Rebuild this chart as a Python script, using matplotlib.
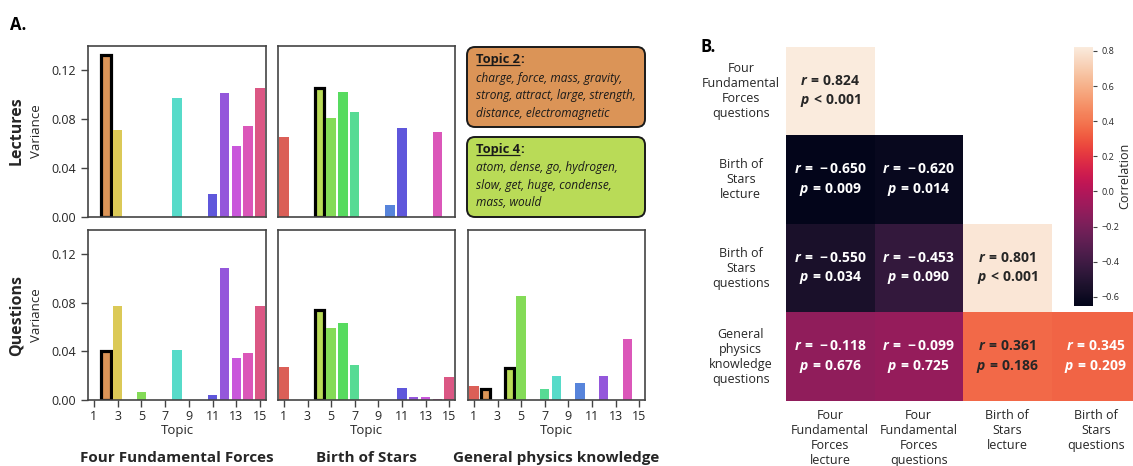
import numpy as np
import matplotlib
matplotlib.use("Agg")
import matplotlib.pyplot as plt
import seaborn as sns
from matplotlib.patches import FancyBboxPatch

plt.rcParams['font.family'] = ['Open Sans', 'DejaVu Sans']
plt.rcParams['mathtext.fontset'] = 'custom'
plt.rcParams['mathtext.rm'] = 'Open Sans:bold'
plt.rcParams['mathtext.it'] = 'Open Sans:italic:bold'
plt.rcParams['mathtext.bf'] = 'Open Sans:bold'
plt.rcParams['axes.unicode_minus'] = True

# ---------------- data ----------------
topics = list(range(1, 16))
tick_topics = [1, 3, 5, 7, 9, 11, 13, 15]
fff_lecture = [0, 0.1323, 0.0709, 0, 0, 0, 0, 0.0971, 0, 0, 0.0185, 0.1012, 0.0578, 0.0742, 0.1053]
bos_lecture = [0.0652, 0, 0, 0.1058, 0.0807, 0.1020, 0.0856, 0, 0, 0.0095, 0.0725, 0, 0, 0.0693, 0]
fff_questions = [0.0003, 0.0402, 0.0774, 0, 0.0065, 0, 0.0002, 0.0415, 0.0003, 0, 0.0041, 0.1083, 0.0342, 0.0383, 0.0774]
bos_questions = [0.0269, 0.0004, 0, 0.0739, 0.0595, 0.0635, 0.0285, 0.0003, 0.0003, 0.0003, 0.0098, 0.0024, 0.0024, 0.0008, 0.0187]
gen_questions = [0.0114, 0.0087, 0.0003, 0.0261, 0.0855, 0.0003, 0.0090, 0.0195, 0.0003, 0.0138, 0.0003, 0.0195, 0.0002, 0.0505, 0.0003]

topic2_words = ["charge, force, mass, gravity,", "strong, attract, large, strength,", "distance, electromagnetic"]
topic4_words = ["atom, dense, go, hydrogen,", "slow, get, huge, condense,", "mass, would"]

corr_rows = ["Four\nFundamental\nForces\nquestions", "Birth of\nStars\nlecture",
             "Birth of\nStars\nquestions", "General\nphysics\nknowledge\nquestions"]
corr_cols = ["Four\nFundamental\nForces\nlecture", "Four\nFundamental\nForces\nquestions",
             "Birth of\nStars\nlecture", "Birth of\nStars\nquestions"]
r_values = [[0.824],
            [-0.650, -0.620],
            [-0.550, -0.453, 0.801],
            [-0.118, -0.099, 0.361, 0.345]]
p_labels = [["< 0.001"],
            ["= 0.009", "= 0.014"],
            ["= 0.034", "= 0.090", "< 0.001"],
            ["= 0.676", "= 0.725", "= 0.186", "= 0.209"]]

palette = sns.color_palette("hls", 15)

W, H = 1133, 466
fig = plt.figure(figsize=(W / 100, H / 100), dpi=100)
TXT = '#262626'
SPINE = '#444444'


def px_axes(x0, y0, x1, y1):
    return fig.add_axes([x0 / W, 1 - y1 / H, (x1 - x0) / W, (y1 - y0) / H])


def bar_panel(rect, values, highlight, show_y, show_x):
    ax = px_axes(*rect)
    ec = ['black' if t in highlight else 'none' for t in topics]
    lw = [2.3 if t in highlight else 0 for t in topics]
    ax.bar(topics, values, width=0.8, color=palette, edgecolor=ec, linewidth=lw)
    ax.set_xlim(0.5, 15.5)
    ax.set_ylim(0, 0.14)
    for s in ax.spines.values():
        s.set_color(SPINE)
        s.set_linewidth(1.2)
    ax.tick_params(colors=TXT, labelsize=9, length=5, width=1, color=SPINE)
    if show_y:
        ax.set_yticks([0, 0.04, 0.08, 0.12])
        ax.set_yticklabels([f"{v:.2f}" for v in [0, 0.04, 0.08, 0.12]])
        ax.set_ylabel("Variance", fontsize=9.5, color=TXT)
        ax.yaxis.set_label_coords((43 - rect[0]) / (rect[2] - rect[0]), 0.5)
    else:
        ax.set_yticks([])
    if show_x:
        ax.set_xticks(tick_topics)
        ax.set_xticklabels([str(t) for t in tick_topics])
        ax.tick_params(axis='x', pad=2)
        ax.set_xlabel("Topic", fontsize=9.5, color=TXT, labelpad=1)
    else:
        ax.set_xticks([])
    return ax


top_y = (46, 217)
bot_y = (230, 400)
cols_x = [(88, 266), (278, 455), (468, 645)]

bar_panel((cols_x[0][0], top_y[0], cols_x[0][1], top_y[1]), fff_lecture, {2}, True, False)
bar_panel((cols_x[1][0], top_y[0], cols_x[1][1], top_y[1]), bos_lecture, {4}, False, False)
bar_panel((cols_x[0][0], bot_y[0], cols_x[0][1], bot_y[1]), fff_questions, {2}, True, True)
bar_panel((cols_x[1][0], bot_y[0], cols_x[1][1], bot_y[1]), bos_questions, {4}, False, True)
bar_panel((cols_x[2][0], bot_y[0], cols_x[2][1], bot_y[1]), gen_questions, {2, 4}, False, True)

# row titles
fig.text(17 / W, 1 - 131 / H, "Lectures", rotation=90, ha='center', va='center',
         fontsize=11.5, fontweight='bold', color=TXT)
fig.text(17 / W, 1 - 315 / H, "Questions", rotation=90, ha='center', va='center',
         fontsize=11.5, fontweight='bold', color=TXT)

# group titles
for (x0, x1), name in zip(cols_x, ["Four Fundamental Forces", "Birth of Stars", "General physics knowledge"]):
    fig.text((x0 + x1) / 2 / W, 1 - 458 / H, name, ha='center', va='center',
             fontsize=11, fontweight='bold', color=TXT)

fig.text(10 / W, 1 - 25 / H, "A.", ha='left', va='center', fontsize=12, fontweight='bold', color='black')
fig.text(700 / W, 1 - 47 / H, "B.", ha='left', va='center', fontsize=12, fontweight='bold', color='black')

# topic word boxes (axes in pixel units)
axt = px_axes(462, 40, 650, 222)
axt.set_xlim(462, 650)
axt.set_ylim(222, 40)
axt.axis('off')
renderer = fig.canvas.get_renderer()


def word_box(y0, y1, color, title, words):
    box = FancyBboxPatch((467, y0), 178, y1 - y0, boxstyle="round,pad=0,rounding_size=8",
                         facecolor=color, edgecolor='#1a1a1a', linewidth=1.4)
    axt.add_patch(box)
    ty = y0 + 12.5
    t = axt.text(476, ty, title, fontsize=9.3, fontweight='bold', va='center', ha='left', color='#1a1a1a')
    bb = t.get_window_extent(renderer).transformed(axt.transData.inverted())
    x_end = max(bb.x0, bb.x1)
    axt.text(x_end, ty, ":", fontsize=9.3, fontweight='bold', va='center', ha='left', color='#1a1a1a')
    axt.plot([476, x_end], [ty + 5.5, ty + 5.5], color='#1a1a1a', lw=0.9, solid_capstyle='butt')
    for i, line in enumerate(words):
        axt.text(476, y0 + 31 + i * 17.5, line, fontsize=8.6, style='italic', va='center',
                 ha='left', color='#1a1a1a')


word_box(47, 127, palette[1], "Topic 2", topic2_words)
word_box(137, 217, palette[3], "Topic 4", topic4_words)

# ---------------- correlation heatmap ----------------
n = len(corr_rows)
mat = np.full((n, n), np.nan)
for i, row in enumerate(r_values):
    for j, v in enumerate(row):
        mat[i, j] = v
masked = np.ma.masked_invalid(mat)
vmin, vmax = np.nanmin(mat), np.nanmax(mat)
cmap = sns.color_palette("rocket", as_cmap=True)

axh = px_axes(786, 46.7, 1140, 401)
mesh = axh.pcolormesh(np.arange(n + 1), np.arange(n + 1), masked, cmap=cmap, vmin=vmin, vmax=vmax)
axh.set_xlim(0, n)
axh.set_ylim(n, 0)
axh.axis('off')


def math_value(v):
    s = f"{abs(v):.3f}"
    return rf"-{s}" if v < 0 else s


norm = plt.Normalize(vmin, vmax)
for i, row in enumerate(r_values):
    for j, v in enumerate(row):
        rgb = cmap(norm(v))[:3]
        lum = 0.2126 * rgb[0] + 0.7152 * rgb[1] + 0.0722 * rgb[2]
        c = TXT if lum > 0.5 else 'white'
        op, num = p_labels[i][j].split()
        axh.text(j + 0.5, i + 0.39, rf"$r\,=\,{math_value(v)}$", ha='center', va='center',
                 fontsize=10, color=c)
        axh.text(j + 0.5, i + 0.61, rf"$p\,{op}\,{num}$", ha='center', va='center',
                 fontsize=10, color=c)

for i, lab in enumerate(corr_rows):
    axh.text(-0.51, i + 0.5, lab, ha='center', va='center', fontsize=9, color=TXT,
             multialignment='center', linespacing=1.2)
for j, lab in enumerate(corr_cols):
    axh.text(j + 0.5, n + 0.09, lab, ha='center', va='top', fontsize=9, color=TXT,
             multialignment='center', linespacing=1.2)

cax = px_axes(1074, 46.7, 1092.7, 305.7)
cb = fig.colorbar(mesh, cax=cax)
cb.outline.set_visible(False)
cb.set_ticks([-0.6, -0.4, -0.2, 0.0, 0.2, 0.4, 0.6, 0.8])
cb.ax.tick_params(labelsize=6.5, length=3, width=0.8, colors=TXT, color=SPINE)
fig.text(1125 / W, 1 - 176 / H, "Correlation", rotation=90, ha='center', va='center',
         fontsize=9, color=TXT)

fig.savefig("out.png", dpi=100)
